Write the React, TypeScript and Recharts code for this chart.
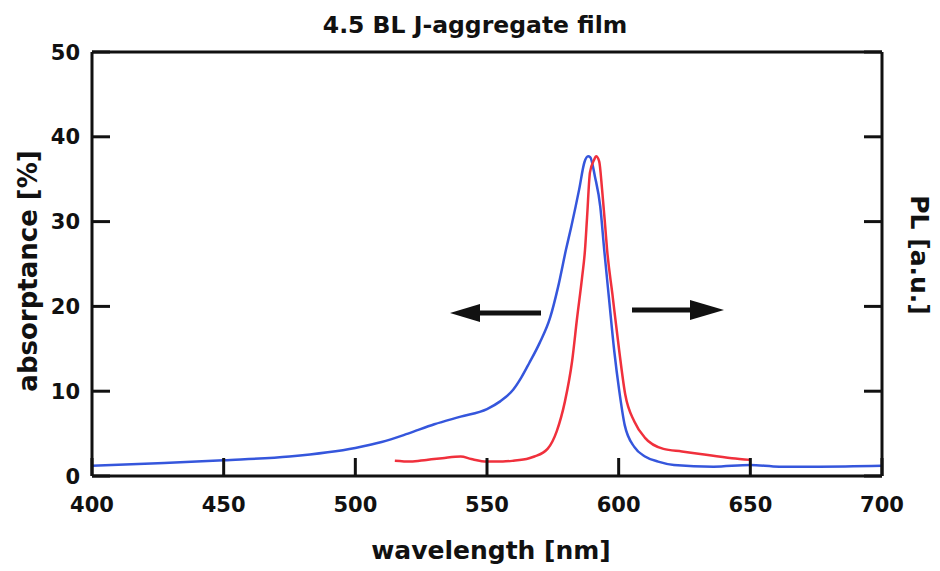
import { LineChart, Line, XAxis, YAxis, ReferenceLine, Label } from 'recharts';

// absorptance (blue)
const WL_ABS = [400, 425, 450, 475, 500, 510, 520, 530, 540, 550, 555, 560, 563, 566, 570, 574, 577, 580, 582, 585, 587, 588.4, 589.2, 591, 593, 594.5, 596.4, 598.3, 600.2, 602.3, 606, 610, 615, 621, 636, 650, 661, 676, 700];
const ABSORPTANCE = [1.2, 1.5, 1.85, 2.3, 3.3, 4.0, 5.0, 6.1, 7.0, 7.9, 8.8, 10.2, 11.6, 13.3, 15.7, 18.7, 22.3, 26.7, 29.4, 33.8, 37.0, 37.7, 37.6, 35.3, 31.8, 26.7, 20.7, 14.8, 10.1, 6.0, 3.4, 2.3, 1.7, 1.3, 1.1, 1.3, 1.1, 1.1, 1.2];

// photoluminescence (red), same visual scale
const WL_PL = [515, 521, 527, 533, 540, 544, 550, 556, 560, 566, 568, 573, 576.5, 579.6, 582.3, 584.2, 586.1, 587.2, 588, 589.1, 590.7, 591.4, 592.6, 593.7, 594.9, 595.6, 597.6, 600.2, 602.5, 606, 610, 617, 624, 631, 643, 650];
const PL = [1.8, 1.7, 1.9, 2.1, 2.3, 2.0, 1.7, 1.7, 1.8, 2.1, 2.3, 3.2, 5.3, 8.8, 13.5, 18.6, 23.4, 26.6, 30.5, 35.8, 37.3, 37.7, 37.1, 33.8, 29.4, 26.7, 21.5, 14.8, 9.6, 6.4, 4.5, 3.2, 2.9, 2.6, 2.1, 1.9];

const X_TICKS = [400, 450, 500, 550, 600, 650, 700];
const Y_TICKS = [0, 10, 20, 30, 40, 50];

const FONT = '"DejaVu Sans", sans-serif';
const INK = '#111';

const absData = WL_ABS.map((wl, i) => ({ wl, v: ABSORPTANCE[i] }));
const plData = WL_PL.map((wl, i) => ({ wl, v: PL[i] }));

function BottomTick(props: any) {
  const { x, y, payload } = props;
  return (
    <g>
      <line x1={x} y1={y} x2={x} y2={y - 18} stroke={INK} strokeWidth={3} />
      <text x={x} y={y + 36} textAnchor="middle" fontFamily={FONT} fontWeight="bold" fontSize={21} fill={INK}>{payload.value}</text>
    </g>
  );
}

function LeftTick(props: any) {
  const { x, y, payload } = props;
  return (
    <g>
      <line x1={x} y1={y} x2={x + 18} y2={y} stroke={INK} strokeWidth={3} />
      <text x={x - 12} y={y} dy="0.36em" textAnchor="end" fontFamily={FONT} fontWeight="bold" fontSize={21} fill={INK}>{payload.value}</text>
    </g>
  );
}

function RightTick(props: any) {
  const { x, y } = props;
  return <line x1={x} y1={y} x2={x - 18} y2={y} stroke={INK} strokeWidth={3} />;
}

export default function App() {
  return (
    <div style={{ position: 'absolute', left: 0, top: 0, width: 940, height: 571, background: '#fff' }}>
      <LineChart width={940} height={571} margin={{ top: 52, right: 38, bottom: 55, left: 32 }}>
        <XAxis xAxisId="b" dataKey="wl" type="number" domain={[400, 700]} ticks={X_TICKS} interval={0}
          height={40} tickSize={0} tickMargin={0} tick={<BottomTick />} axisLine={{ stroke: INK, strokeWidth: 3 }}>
          <Label value="wavelength [nm]" position="center" dx={4} dy={54} fontFamily={FONT} fontWeight="bold" fontSize={25} fill={INK} />
        </XAxis>
        <YAxis yAxisId="l" type="number" domain={[0, 50]} ticks={Y_TICKS} interval={0} width={60}
          tickSize={0} tickMargin={0} tick={<LeftTick />} axisLine={{ stroke: INK, strokeWidth: 3 }}>
          <Label value="absorptance [%]" angle={-90} position="center" dx={-34} dy={7} fontFamily={FONT} fontWeight="bold" fontSize={26} fill={INK} />
        </YAxis>
        <YAxis yAxisId="r" orientation="right" type="number" domain={[0, 50]} ticks={Y_TICKS} interval={0} width={20}
          tickSize={0} tickMargin={0} tick={<RightTick />} axisLine={{ stroke: INK, strokeWidth: 3 }}>
          <Label value="PL [a.u.]" angle={90} position="center" dx={28} dy={-9} fontFamily={FONT} fontWeight="bold" fontSize={25} fill={INK} />
        </YAxis>
        <ReferenceLine xAxisId="b" yAxisId="l" y={50} stroke={INK} strokeWidth={3} />
        <Line xAxisId="b" yAxisId="l" data={absData} dataKey="v" type="monotone" dot={false}
          stroke="#3556dc" strokeWidth={2.5} isAnimationActive={false} />
        <Line xAxisId="b" yAxisId="r" data={plData} dataKey="v" type="monotone" dot={false}
          stroke="#f0303c" strokeWidth={2.5} isAnimationActive={false} />
      </LineChart>
      <svg width={940} height={571} style={{ position: 'absolute', left: 0, top: 0, pointerEvents: 'none' }}>
        <text x={475} y={33} textAnchor="middle" fontFamily={FONT} fontWeight="bold" fontSize={23.5} fill={INK}>4.5 BL J-aggregate film</text>
        <line x1={541} y1={313} x2={476} y2={313} stroke={INK} strokeWidth={5} />
        <polygon points="450,313 480,304 480,322" fill={INK} />
        <line x1={632} y1={310} x2={692} y2={310} stroke={INK} strokeWidth={5} />
        <polygon points="724,310 690,300 690,320" fill={INK} />
      </svg>
    </div>
  );
}
